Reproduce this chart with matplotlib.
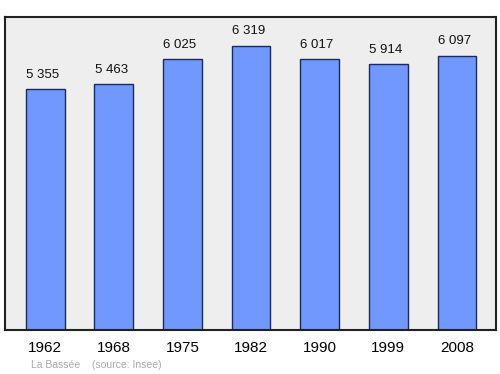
import matplotlib
matplotlib.use("Agg")
import matplotlib.pyplot as plt

years = ["1962", "1968", "1975", "1982", "1990", "1999", "2008"]
population = [5355, 5463, 6025, 6319, 6017, 5914, 6097]
value_labels = ["5 355", "5 463", "6 025", "6 319", "6 017", "5 914", "6 097"]
footer_place = "La Bassée"
footer_source = "(source: Insee)"

plt.rcParams['font.family'] = ['Liberation Sans', 'DejaVu Sans']

fig = plt.figure(figsize=(5.0, 3.74), dpi=100)
ax = fig.add_axes([0.01, 0.1176, 0.982, 0.8369])
ax.set_facecolor("#eeeeee")

x = list(range(len(years)))
ax.bar(x, population, width=0.565, color="#7098ff", edgecolor="#1a2a5a", linewidth=1.0, zorder=2)
for xi, v, lab in zip(x, population, value_labels):
    ax.annotate(lab, (xi, v), xytext=(-2, 6), textcoords="offset points",
                ha="center", va="bottom", fontsize=9.5, color="#111111")

ax.set_xlim(-0.587, 6.57)
ax.set_ylim(0, 6955)
ax.set_xticks(x)
ax.set_xticklabels(years, fontsize=11)
ax.tick_params(axis="x", length=0, pad=8)
ax.set_yticks([])
for s in ax.spines.values():
    s.set_linewidth(1.5)
    s.set_color("#222222")

fig.text(0.062, 0.024, footer_place, fontsize=7.5, color="#aaaaaa", ha="left", va="center")
fig.text(0.184, 0.024, footer_source, fontsize=7.5, color="#aaaaaa", ha="left", va="center")

fig.savefig("out.png", dpi=100)
